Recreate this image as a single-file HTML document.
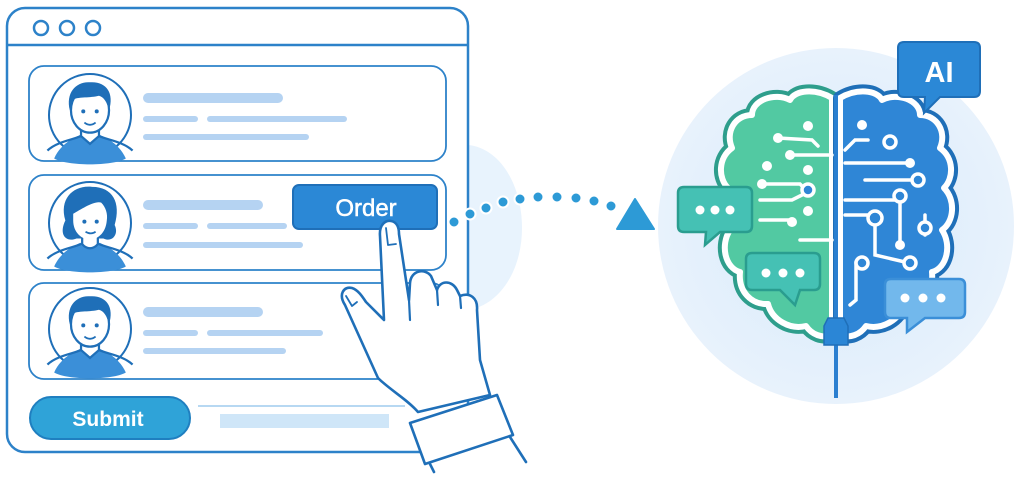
<!DOCTYPE html>
<html><head><meta charset="utf-8"><style>
html,body{margin:0;padding:0;background:#fff;width:1024px;height:477px;overflow:hidden}
svg{display:block}
text{font-family:"Liberation Sans",sans-serif}
</style></head><body>
<svg width="1024" height="477" viewBox="0 0 1024 477" xmlns="http://www.w3.org/2000/svg">
<defs>
<g id="man">
  <path d="M-32,37 C-25,22 -12,18 -9,16 L9,16 C12,18 25,22 32,37 C20,44 -20,44 -32,37Z" fill="#3b8fd8"/>
  <path d="M-38,30 C-30,22 -14,20 -8,17 M38,30 C30,22 14,20 8,17" stroke="#1f6fb8" stroke-width="2" fill="none"/>
  <path d="M-8,8 L-8,17 L0,24 L8,17 L8,8" fill="#fff" stroke="#1f6fb8" stroke-width="2"/>
  <ellipse cx="0" cy="-6" rx="17" ry="20" fill="#fff" stroke="#1f6fb8" stroke-width="2"/>
  <path d="M-18,-6 C-22,-22 -12,-32 0,-31 C14,-32 22,-22 17,-6 C15,-14 12,-18 8,-19 C0,-17 -10,-18 -14,-16 C-16,-12 -17,-8 -18,-6Z" fill="#1f6fb8"/>
  <circle cx="-6" cy="-5" r="1.8" fill="#1f6fb8"/><circle cx="6" cy="-5" r="1.8" fill="#1f6fb8"/>
  <path d="M-5,5 Q0,9 5,5" stroke="#1f6fb8" stroke-width="1.6" fill="none"/>
</g>
<g id="woman">
  <path d="M-32,37 C-25,22 -12,18 -9,16 L9,16 C12,18 25,22 32,37 C20,44 -20,44 -32,37Z" fill="#3b8fd8"/>
  <path d="M-38,30 C-30,22 -14,20 -8,17 M38,30 C30,22 14,20 8,17" stroke="#1f6fb8" stroke-width="2" fill="none"/>
  <path d="M-22,-4 C-28,-24 -14,-36 2,-34 C20,-34 28,-20 22,0 C26,8 20,16 12,12 L-12,12 C-22,16 -28,8 -22,-4Z" fill="#1f6fb8"/>
  <path d="M-7,8 L-7,17 C-3,22 3,22 7,17 L7,8" fill="#fff" stroke="#1f6fb8" stroke-width="2"/>
  <path d="M-15,-10 C-8,-14 4,-22 10,-20 C14,-16 16,-10 15,-4 C14,8 6,13 0,13 C-8,13 -15,6 -15,-4Z" fill="#fff"/>
  <circle cx="-5" cy="-3" r="1.8" fill="#1f6fb8"/><circle cx="6" cy="-3" r="1.8" fill="#1f6fb8"/>
  <path d="M-4,6 Q1,9 5,6" stroke="#1f6fb8" stroke-width="1.6" fill="none"/>
</g>
<radialGradient id="bg" cx="0.5" cy="0.5" r="0.5">
<stop offset="0" stop-color="#d6e9fa"/><stop offset="1" stop-color="#e8f2fc"/>
</radialGradient>
</defs>

<path d="M468,145 C500,148 522,185 522,228 C522,270 500,305 468,310Z" fill="#e8f3fd"/>

<rect x="7" y="8" width="461" height="444" rx="18" fill="#fff" stroke="#2d82c9" stroke-width="2.5"/>
<line x1="7" y1="45" x2="468" y2="45" stroke="#2d82c9" stroke-width="2.5"/>
<circle cx="41" cy="28" r="7" fill="none" stroke="#2d82c9" stroke-width="2.5"/>
<circle cx="67" cy="28" r="7" fill="none" stroke="#2d82c9" stroke-width="2.5"/>
<circle cx="93" cy="28" r="7" fill="none" stroke="#2d82c9" stroke-width="2.5"/>

<rect x="29" y="66" width="417" height="95" rx="15" fill="#fff" stroke="#2d82c9" stroke-width="1.8"/>
<rect x="29" y="175" width="417" height="95" rx="15" fill="#fff" stroke="#2d82c9" stroke-width="1.8"/>
<rect x="29" y="283" width="417" height="96" rx="15" fill="#fff" stroke="#2d82c9" stroke-width="1.8"/>

<circle cx="90" cy="115" r="41" fill="#fff" stroke="#1f6fb8" stroke-width="2"/>
<use href="#man" transform="translate(90,117) scale(1.12)"/>
<circle cx="90" cy="223" r="41" fill="#fff" stroke="#1f6fb8" stroke-width="2"/>
<use href="#woman" transform="translate(90,225) scale(1.12)"/>
<circle cx="90" cy="329" r="41" fill="#fff" stroke="#1f6fb8" stroke-width="2"/>
<use href="#man" transform="translate(90,331) scale(1.12)"/>

<g fill="#b5d3f2">
<rect x="143" y="93" width="140" height="10" rx="5"/>
<rect x="143" y="116" width="55" height="6" rx="3"/><rect x="207" y="116" width="140" height="6" rx="3"/>
<rect x="143" y="134" width="166" height="6" rx="3"/>
<rect x="143" y="200" width="120" height="10" rx="5"/>
<rect x="143" y="223" width="55" height="6" rx="3"/><rect x="207" y="223" width="80" height="6" rx="3"/>
<rect x="143" y="242" width="160" height="6" rx="3"/>
<rect x="143" y="307" width="120" height="10" rx="5"/>
<rect x="143" y="330" width="55" height="6" rx="3"/><rect x="207" y="330" width="116" height="6" rx="3"/>
<rect x="143" y="348" width="143" height="6" rx="3"/>
</g>

<rect x="293" y="185" width="144" height="44" rx="6" fill="#2b88d6" stroke="#1f6fb8" stroke-width="2"/>
<text x="366" y="216" font-size="24" fill="#fff" text-anchor="middle" stroke="#fff" stroke-width="0.5">Order</text>

<rect x="30" y="397" width="160" height="42" rx="21" fill="#2fa3d8" stroke="#1f7fc0" stroke-width="2"/>
<text x="108" y="426" font-size="21" font-weight="bold" fill="#fff" text-anchor="middle">Submit</text>
<line x1="198" y1="406" x2="405" y2="406" stroke="#9fcbee" stroke-width="1.5"/>
<rect x="220" y="414" width="169" height="14" fill="#cfe6f8"/>

<g fill="#fff" stroke="#1f6fb8" stroke-width="2.6" stroke-linejoin="round" stroke-linecap="round">
<path d="M384,320 L380,236 C379,224 386,220 391,221 C397,222 399,228 399,234 L409,300 L410,283 C411,270 425,268 431,276 L437,290 C440,280 452,280 457,290 L460,296 C470,292 478,298 477,310 L480,360 L490,395 L418,412 C408,400 390,390 378,378 L345,305 C338,294 344,286 352,288 C358,290 362,296 366,302 Z"/>
<path d="M410,423 L497,395 L513,435 L425,464 Z"/>
<path d="M430,464 L434,472 M510,437 L526,462" fill="none"/>
<path d="M386,228 L388,245 L396,244" fill="none" stroke-width="1.8"/>
<path d="M346,296 L352,306 L357,302" fill="none" stroke-width="1.8"/>
<path d="M409,300 L410,320 M437,290 L438,305 M460,296 L461,308" fill="none" stroke-width="2.2"/>
</g>

<g fill="#2d9ad6" stroke="#fff" stroke-width="2">
<circle cx="454" cy="222" r="5.5"/><circle cx="470" cy="214" r="5.5"/><circle cx="486" cy="208" r="5.5"/>
<circle cx="503" cy="202" r="5.5"/><circle cx="520" cy="199" r="5.5"/><circle cx="538" cy="197" r="5.5"/>
<circle cx="557" cy="197" r="5.5"/><circle cx="576" cy="198" r="5.5"/><circle cx="594" cy="201" r="5.5"/>
<circle cx="611" cy="206" r="5.5"/>
</g>
<path d="M635,199 L654,229 L617,229 Z" fill="#2d9ad6" stroke="#2d9ad6" stroke-width="2" stroke-linejoin="round"/>

<circle cx="836" cy="226" r="178" fill="url(#bg)"/>

<g stroke-linejoin="round">
<path d="M832,98 C815,88 795,90 790,100 C775,92 752,100 752,115 C735,115 725,132 732,148 C718,158 718,178 728,188 C716,200 718,222 730,230 C720,245 725,268 740,272 C738,292 752,305 768,304 C772,320 790,330 806,326 C812,335 822,338 832,336 Z" fill="#52c9a2" stroke="#2e9e8c" stroke-width="14"/>
<path d="M832,98 C815,88 795,90 790,100 C775,92 752,100 752,115 C735,115 725,132 732,148 C718,158 718,178 728,188 C716,200 718,222 730,230 C720,245 725,268 740,272 C738,292 752,305 768,304 C772,320 790,330 806,326 C812,335 822,338 832,336 Z" fill="#52c9a2" stroke="#fff" stroke-width="6"/>
<path d="M840,98 C857,88 877,90 882,100 C897,92 920,100 920,115 C937,115 947,132 940,148 C954,158 954,178 944,188 C956,200 954,222 942,230 C952,245 947,268 932,272 C934,292 920,305 904,304 C900,320 882,330 866,326 C860,335 850,338 840,336 Z" fill="#2f86d6" stroke="#1f6fb8" stroke-width="14"/>
<path d="M840,98 C857,88 877,90 882,100 C897,92 920,100 920,115 C937,115 947,132 940,148 C954,158 954,178 944,188 C956,200 954,222 942,230 C952,245 947,268 932,272 C934,292 920,305 904,304 C900,320 882,330 866,326 C860,335 850,338 840,336 Z" fill="#2f86d6" stroke="#fff" stroke-width="6"/>
</g>
<line x1="836" y1="95" x2="836" y2="398" stroke="#2b7fd0" stroke-width="4"/>
<g stroke="#fff" stroke-width="3.5" fill="none" stroke-linecap="round">
<path d="M778,138 L812,140 L818,146"/><path d="M790,155 L832,155"/>
<path d="M762,184 L800,184 L806,190"/><path d="M806,193 L792,200 L760,200"/>
<path d="M790,220 L760,220"/><path d="M800,240 L832,240"/>
<path d="M845,150 L855,140 L868,140"/><path d="M845,163 L910,163"/>
<path d="M865,180 L920,180"/><path d="M845,200 L895,200 L900,196"/>
<path d="M845,215 L870,215"/><path d="M900,200 L900,245"/>
<path d="M875,225 L875,255 L905,262"/><path d="M925,215 L925,235"/>
<path d="M856,262 L856,300 L850,305"/>
</g>
<g fill="#fff">
<circle cx="808" cy="126" r="5"/><circle cx="778" cy="138" r="5"/><circle cx="790" cy="155" r="5"/>
<circle cx="767" cy="166" r="5"/><circle cx="808" cy="170" r="5"/><circle cx="808" cy="211" r="5"/>
<circle cx="792" cy="222" r="5"/><circle cx="762" cy="184" r="5"/>
<circle cx="862" cy="125" r="5"/><circle cx="910" cy="163" r="5"/><circle cx="900" cy="245" r="5"/>
</g>
<g fill="#2f86d6" stroke="#fff" stroke-width="3.5">
<circle cx="808" cy="190" r="6"/><circle cx="890" cy="142" r="6"/><circle cx="918" cy="180" r="6"/>
<circle cx="900" cy="196" r="6"/><circle cx="875" cy="218" r="7"/><circle cx="925" cy="228" r="6"/>
<circle cx="862" cy="263" r="6"/><circle cx="910" cy="263" r="6"/>
</g>
<path d="M828,318 L844,318 L848,326 L848,345 L824,345 L824,326 Z" fill="#2b86d6" stroke="#1f6fb8" stroke-width="1.5"/>

<path d="M684,187 L746,187 Q752,187 752,193 L752,226 Q752,232 746,232 L720,232 L705,245 L706,232 L684,232 Q678,232 678,226 L678,193 Q678,187 684,187Z" fill="#45c1b4" stroke="#2a9d8f" stroke-width="2.5"/>
<g fill="#fff"><circle cx="700" cy="210" r="4.5"/><circle cx="715" cy="210" r="4.5"/><circle cx="730" cy="210" r="4.5"/></g>
<path d="M752,253 L814,253 Q820,253 820,259 L820,284 Q820,290 814,290 L800,290 L795,305 L780,290 L752,290 Q746,290 746,284 L746,259 Q746,253 752,253Z" fill="#45c1b4" stroke="#2a9d8f" stroke-width="2.5"/>
<g fill="#fff"><circle cx="766" cy="273" r="4.5"/><circle cx="783" cy="273" r="4.5"/><circle cx="800" cy="273" r="4.5"/></g>
<path d="M891,279 L959,279 Q965,279 965,285 L965,312 Q965,318 959,318 L925,318 L907,332 L907,318 L891,318 Q885,318 885,312 L885,285 Q885,279 891,279Z" fill="#72b8ec" stroke="#3b8fd8" stroke-width="2.5"/>
<g fill="#fff"><circle cx="905" cy="298" r="4.5"/><circle cx="923" cy="298" r="4.5"/><circle cx="941" cy="298" r="4.5"/></g>
<path d="M904,42 L974,42 Q980,42 980,48 L980,91 Q980,97 974,97 L940,97 L924,113 L925,97 L904,97 Q898,97 898,91 L898,48 Q898,42 904,42Z" fill="#2b88d6" stroke="#1f6fb8" stroke-width="2"/>
<text x="939" y="82" font-size="29" font-weight="bold" fill="#fff" text-anchor="middle">AI</text>
</svg>
</body></html>
